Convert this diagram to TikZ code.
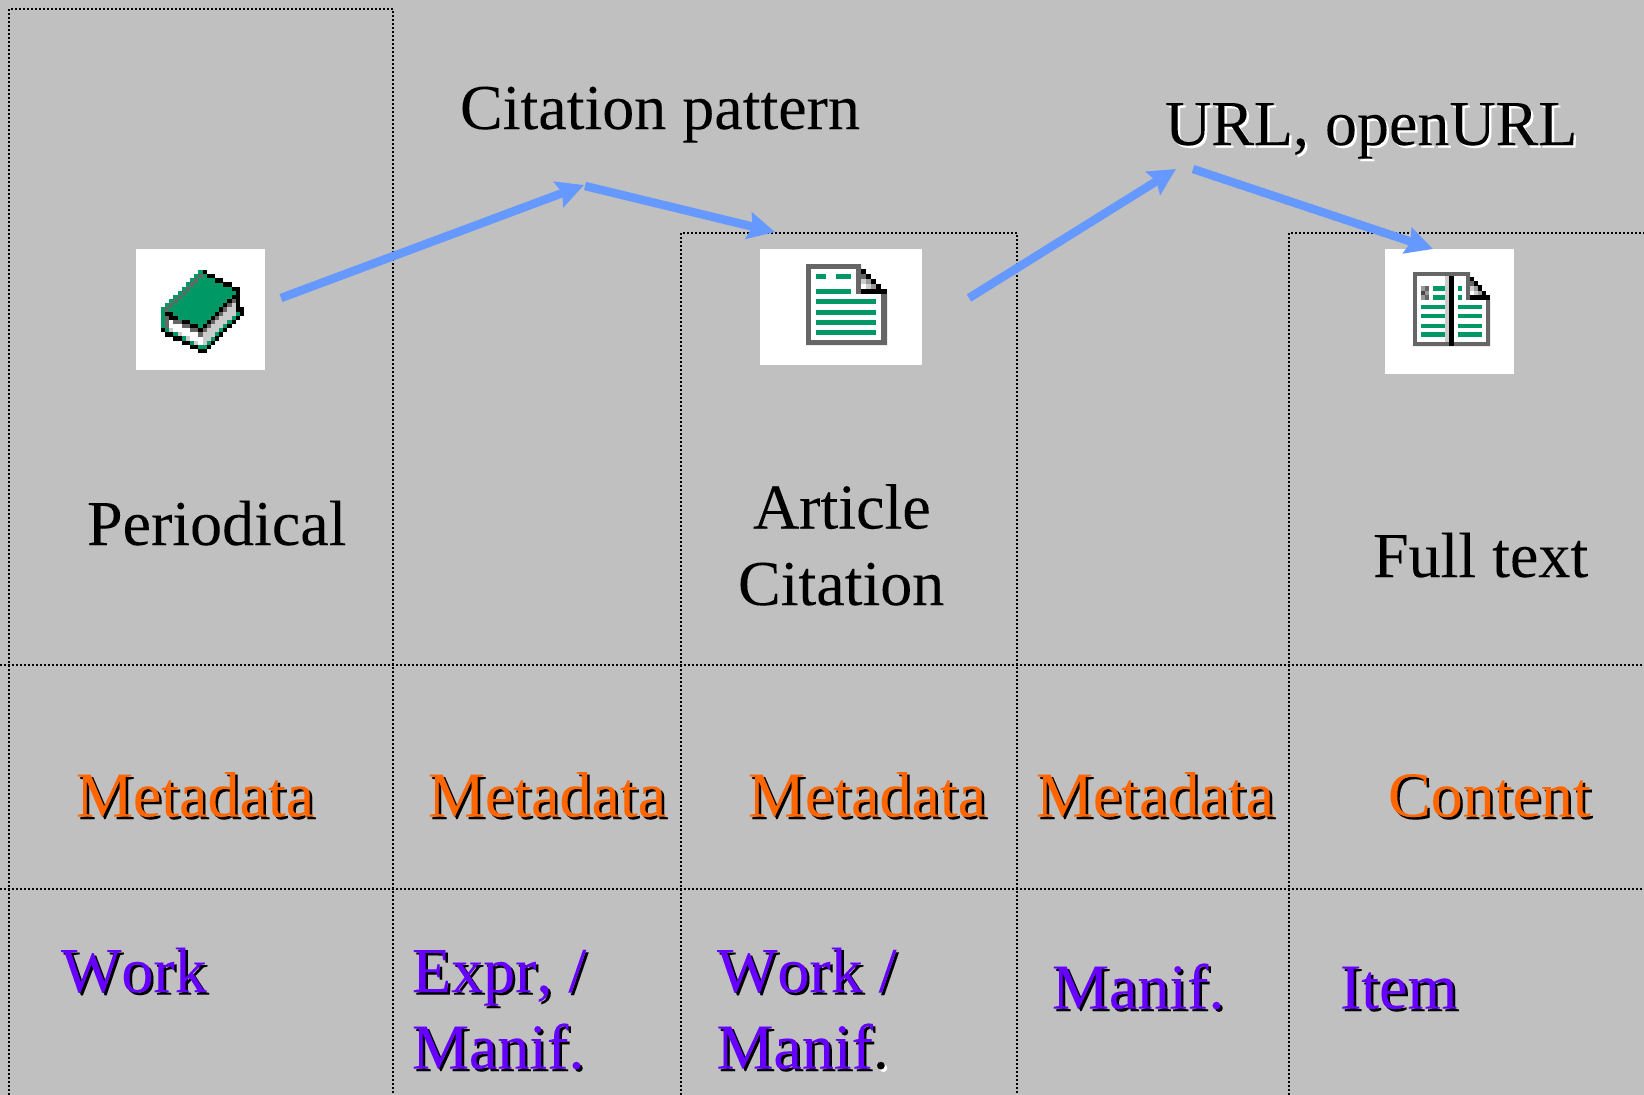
\documentclass[tikz,border=0pt]{standalone}
\usepackage{fontspec}
\setmainfont[Kerning=Off,FakeBold=0.03,AutoFakeBold=false]{Liberation Serif}
\usetikzlibrary{arrows.meta}
\definecolor{bgc}{HTML}{C0C0C0}
\definecolor{flow}{HTML}{6699FF}
\definecolor{orangec}{HTML}{FF6600}
\definecolor{purplec}{HTML}{6600FF}
\definecolor{icongreen}{HTML}{009966}
\definecolor{icongray}{HTML}{666666}
\definecolor{iconlight}{HTML}{CCCCCC}
\definecolor{iconmid}{HTML}{999999}
\newcommand{\shtxt}[3]{\rlap{\kern2.5pt\raisebox{-2.5pt}{\color{#2}#3}}{\color{#1}#3}}
\tikzset{
  gridline/.style={line width=2.2pt,black,dash pattern=on 2pt off 2pt},
  flowarrow/.style={line width=8.5pt,flow,-{Stealth[length=27pt,width=27pt,inset=4pt]}},
  lab/.style={anchor=base west,inner sep=0pt,outer sep=0pt,font=\fontsize{64}{64}\selectfont},
  iconbox/.style={fill=white,anchor=north west,inner sep=0pt,outer sep=0pt}
}
\begin{document}
\begin{tikzpicture}[x=1pt,y=-1pt]
\useasboundingbox (0,0) rectangle (1644,1095);
\fill[bgc] (0,0) rectangle (1644,1095);
% dotted grid
\draw[gridline] (9,1095) -- (9,9) -- (393,9) -- (393,1095);
\draw[gridline] (681,1095) -- (681,233) -- (1017,233) -- (1017,1095);
\draw[gridline] (1289,1095) -- (1289,233) -- (1644,233);
\draw[gridline] (0,665) -- (1644,665);
\draw[gridline] (0,889) -- (1644,889);
% icon boxes
\node[iconbox,minimum width=129pt,minimum height=121pt] (bookbox) at (136,249) {};
\node[iconbox,minimum width=162pt,minimum height=116pt] (docbox) at (760,249) {};
\node[iconbox,minimum width=129pt,minimum height=125pt] (fullbox) at (1385,249) {};
% book icon
\begin{scope}[shift={(161,270)},x=4.15pt,y=-4.15pt]
\foreach \r/\a/\b in {0/9/9,1/8/8,1/10/10,2/7/7,2/9/12,3/6/6,3/8/14,4/5/5,4/7/16,5/4/4,5/6/17,6/3/3,6/5/16,7/2/2,7/4/15,8/1/1,8/3/14,9/0/0,9/2/13,10/0/0,10/3/12,10/18/18,11/0/0,11/4/11,11/17/17,12/0/0,12/7/10,12/16/16,13/0/0,13/9/9,13/15/15,14/1/1,14/14/14,15/3/3,15/13/13,16/5/5,16/12/12,17/7/7,17/11/11,18/9/10}
  \fill[icongreen] (\a,\r) rectangle (\b+1,\r+1.03);
\foreach \r/\a/\b in {1/9/9,2/8/8,3/7/7,4/6/6,5/5/5,6/4/4,7/3/3,7/17/17,8/2/2,8/16/16,9/1/1,9/15/15,10/14/14,11/1/1,11/13/13,12/1/1,12/3/4,12/12/12,13/1/1,13/5/6,13/11/11,14/7/8,14/10/10,15/9/9}
  \fill[icongray] (\a,\r) rectangle (\b+1,\r+1.03);
\foreach \r/\a/\b in {8/17/17,9/16/17,10/15/17,11/14/16,12/13/15,13/12/14,14/2/2,14/11/13,15/4/4,15/10/12,16/6/6,16/10/11,17/8/8,17/10/10}
  \fill[iconlight] (\a,\r) rectangle (\b+1,\r+1.03);
\foreach \r/\a/\b in {0/10/10,1/11/12,2/13/14,3/15/16,4/17/18,5/18/18,6/17/18,7/16/16,7/18/18,8/15/15,8/18/18,9/14/14,9/18/19,10/1/2,10/13/13,10/19/19,11/2/3,11/12/12,11/18/18,12/5/6,12/11/11,12/17/17,13/7/8,13/10/10,13/16/16,14/0/0,14/9/9,14/15/15,15/1/2,15/14/14,16/3/4,16/13/13,17/5/6,17/12/12,18/7/8,18/11/11,19/9/10}
  \fill[black] (\a,\r) rectangle (\b+1,\r+1.03);
\end{scope}
% article icon
\begin{scope}[shift={(750,240)},x=0.33333pt,y=-0.33333pt]
\fill[icongray] (168,72) -- (333,72) -- (333,162) -- (411,162) -- (411,315) -- (168,315) -- cycle;
\fill[white] (183,87) rectangle (318,162);
\fill[white] (183,162) rectangle (393,300);
\foreach \a/\b/\c/\d in {198/102/228/117,258/102/303/117,198/147/303/162,198/177/378/192,198/210/378/225,198/240/378/255,198/270/378/285}
  \fill[icongreen] (\a,\b) rectangle (\c,\d);
\fill[icongray] (333,102) rectangle (348,117);
\fill[iconlight] (333,117) rectangle (348,132);
\fill[iconmid] (348,117) rectangle (363,132);
\fill[white] (333,132) rectangle (348,147);
\fill[iconlight] (348,132) rectangle (363,147);
\fill[iconmid] (363,132) rectangle (378,147);
\foreach \a/\b/\c/\d in {333/87/348/102,348/102/363/117,363/117/378/132,378/132/393/147,333/147/411/162}
  \fill[black] (\a,\b) rectangle (\c,\d);
\end{scope}
% full text icon
\begin{scope}[shift={(1370,225)},x=0.33333pt,y=-0.33333pt]
\fill[icongray] (129,141) -- (300,141) -- (300,225) -- (360,225) -- (360,363) -- (129,363) -- cycle;
\fill[white] (141,153) rectangle (288,225);
\fill[white] (141,225) rectangle (348,351);
\fill[iconlight] (225,153) rectangle (237,351);
\fill[black] (237,153) rectangle (252,363);
\foreach \a/\b/\c/\d in {189/183/225/198,189/210/225/225,264/183/276/198,264/210/276/225,153/240/225/252,264/240/336/252,153/267/225/279,264/267/336/279,153/297/225/309,264/297/336/309,153/321/225/336,264/321/336/336}
  \fill[icongreen] (\a,\b) rectangle (\c,\d);
\fill[iconmid] (153,183) rectangle (165,198);
\fill[icongray] (165,183) rectangle (177,198);
\fill[icongray!70!black] (153,198) rectangle (165,210);
\fill[iconmid] (165,198) rectangle (177,210);
\fill[iconmid] (153,210) rectangle (165,225);
\fill[icongray] (165,210) rectangle (177,225);
\fill[icongray] (300,168) rectangle (312,183);
\fill[iconlight] (300,183) rectangle (312,198);
\fill[iconmid] (312,183) rectangle (324,198);
\fill[white] (300,198) rectangle (312,210);
\fill[iconlight] (312,198) rectangle (324,210);
\fill[iconmid] (324,198) rectangle (336,210);
\foreach \a/\b/\c/\d in {300/156/312/168,312/168/324/183,324/180/336/198,336/198/348/210,300/210/360/225}
  \fill[black] (\a,\b) rectangle (\c,\d);
\end{scope}
% labels
\node[lab] (citp) at (460,129) {Citation pattern};
\node[lab] (url) at (1165,145) {\shtxt{black}{white}{URL, openURL}};
\node[lab] (per) at (87,545) {Periodical};
\node[lab] (art) at (753,528.5) {Article};
\node[lab] (cit) at (738,605) {Citation};
\node[lab] (full) at (1373,577) {Full text};
\node[lab] (m1) at (76,816.5) {\shtxt{orangec}{black}{Metadata}};
\node[lab] (m2) at (428,816.5) {\shtxt{orangec}{black}{Metadata}};
\node[lab] (m3) at (748,816.5) {\shtxt{orangec}{black}{Metadata}};
\node[lab] (m4) at (1036,816.5) {\shtxt{orangec}{black}{Metadata}};
\node[lab] (m5) at (1388,816.5) {\shtxt{orangec}{black}{Content}};
\node[lab] (b1) at (61,992) {\shtxt{purplec}{black}{Work}};
\node[lab] (b2a) at (412,992) {\shtxt{purplec}{black}{Expr, /}};
\node[lab] (b2b) at (412,1068.5) {\shtxt{purplec}{black}{Manif.}};
\node[lab] (b3a) at (717,992) {\shtxt{purplec}{black}{Work /}};
\node[lab] (b3b) at (716.5,1068.5) {\shtxt{purplec}{black}{Manif}\shtxt{black}{white}{.}};
\node[lab] (b4) at (1052,1008.5) {\shtxt{purplec}{black}{Manif.}};
\node[lab] (b5) at (1340,1008.5) {\shtxt{purplec}{black}{Item}};
% arrows
\coordinate (a1s) at (281,298);
\coordinate (a1e) at (584,185);
\coordinate (a2s) at (585,186);
\coordinate (a2e) at (775,232);
\coordinate (a3s) at (969,298);
\coordinate (a3e) at (1176,169);
\coordinate (a4s) at (1193,169);
\coordinate (a4e) at (1433,249);
\draw[flowarrow] (a1s) -- (a1e);
\draw[flowarrow] (a2s) -- (a2e);
\draw[flowarrow] (a3s) -- (a3e);
\draw[flowarrow] (a4s) -- (a4e);
\end{tikzpicture}
\end{document}
